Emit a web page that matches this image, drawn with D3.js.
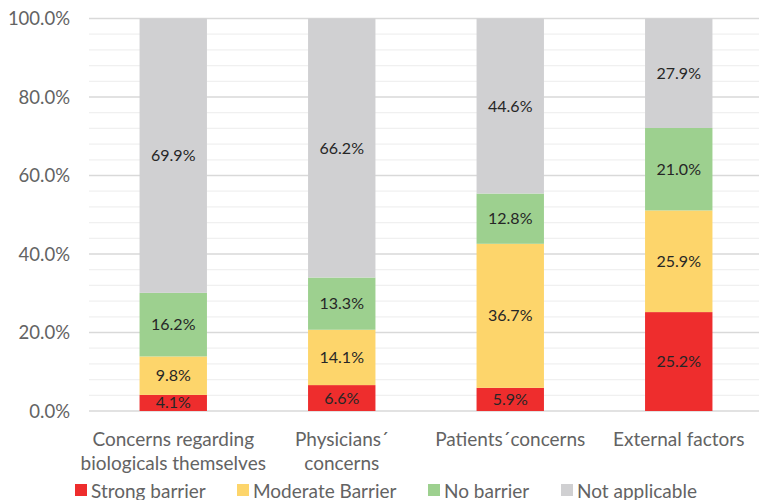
<!DOCTYPE html>
<html>
<head>
<meta charset="utf-8">
<script src="https://cdn.jsdelivr.net/npm/d3@7"></script>
<style>
  body { margin: 0; background: #fff; }
  text { font-family: Lato, "Open Sans", sans-serif; }
</style>
</head>
<body>
<svg id="chart" width="759" height="500"></svg>
<script>
// data
const categories = [["Concerns regarding", "biologicals themselves"], ["Physicians´", "concerns"], ["Patients´concerns"], ["External factors"]];
const seriesNames = ["Strong barrier", "Moderate Barrier", "No barrier", "Not applicable"];
const strongBarrier = [4.1, 6.6, 5.9, 25.2];
const moderateBarrier = [9.8, 14.1, 36.7, 25.9];
const noBarrier = [16.2, 13.3, 12.8, 21.0];
const notApplicable = [69.9, 66.2, 44.6, 27.9];
const yTicks = [0, 20, 40, 60, 80, 100];

const colors = ["#ee2d2d", "#fdd56b", "#9dd08f", "#d0d0d2"];

const svg = d3.select("#chart");
const x = d3.scaleBand().domain(d3.range(categories.length)).range([89, 763]).paddingInner(0.6).paddingOuter(0.3);
const y = d3.scaleLinear().domain([0, 100]).range([411, 18.5]);

// gridlines: minor every 4%, major every 20%
const g = svg.append("g");
g.selectAll("line.minor").data(d3.range(4, 100, 4).filter(v => v % 20 != 0)).enter().append("line")
  .attr("x1", 89).attr("x2", 759).attr("y1", d => y(d)).attr("y2", d => y(d))
  .attr("stroke", "#f0f0f0").attr("stroke-width", 1.3);
g.selectAll("line.major").data(yTicks).enter().append("line")
  .attr("x1", 89).attr("x2", 759).attr("y1", d => y(d)).attr("y2", d => y(d))
  .attr("stroke", "#d9d9d9").attr("stroke-width", 1.3);

// y axis labels
svg.append("g").selectAll("text").data(yTicks).enter().append("text")
  .attr("x", 70).attr("y", d => y(d) + 6.5).attr("text-anchor", "end")
  .attr("font-size", 18.5).attr("fill", "#636363")
  .text(d => d.toFixed(1) + "%");

// stacked bars
const rows = categories.map((c, i) => ({ i: i, s0: strongBarrier[i], s1: moderateBarrier[i], s2: noBarrier[i], s3: notApplicable[i] }));
const stack = d3.stack().keys(["s0", "s1", "s2", "s3"]);
const layers = stack(rows);

layers.forEach((layer, k) => {
  const lg = svg.append("g");
  lg.selectAll("rect").data(layer).enter().append("rect")
    .attr("x", d => x(d.data.i)).attr("width", x.bandwidth())
    .attr("y", d => y(Math.min(d[1], 100))).attr("height", d => y(d[0]) - y(Math.min(d[1], 100)))
    .attr("fill", colors[k]);
  lg.selectAll("text").data(layer).enter().append("text")
    .attr("x", d => x(d.data.i) + x.bandwidth() / 2)
    .attr("y", d => (y(d[0]) + y(Math.min(d[1], 100))) / 2 + 5.5)
    .attr("text-anchor", "middle").attr("font-size", 16).attr("fill", "#262626")
    .text(d => (d[1] - d[0]).toFixed(1) + "%");
});

// category labels
const cat = svg.append("g").selectAll("text").data(categories).enter().append("text")
  .attr("x", (d, i) => x(i) + x.bandwidth() / 2).attr("y", 446)
  .attr("text-anchor", "middle").attr("font-size", 19).attr("fill", "#636363");
cat.selectAll("tspan").data(d => d).enter().append("tspan")
  .attr("x", function() { return d3.select(this.parentNode).attr("x"); })
  .attr("dy", (d, j) => j == 0 ? 0 : 24)
  .text(d => d);

// legend
const legendX = [75, 237, 428, 561];
const leg = svg.append("g").selectAll("g").data(seriesNames).enter().append("g")
  .attr("transform", (d, i) => "translate(" + legendX[i] + ",484)");
leg.append("rect").attr("width", 12).attr("height", 12).attr("fill", (d, i) => colors[i]);
leg.append("text").attr("x", 16).attr("y", 13.5).attr("font-size", 19).attr("fill", "#636363").text(d => d);
</script>
</body>
</html>
